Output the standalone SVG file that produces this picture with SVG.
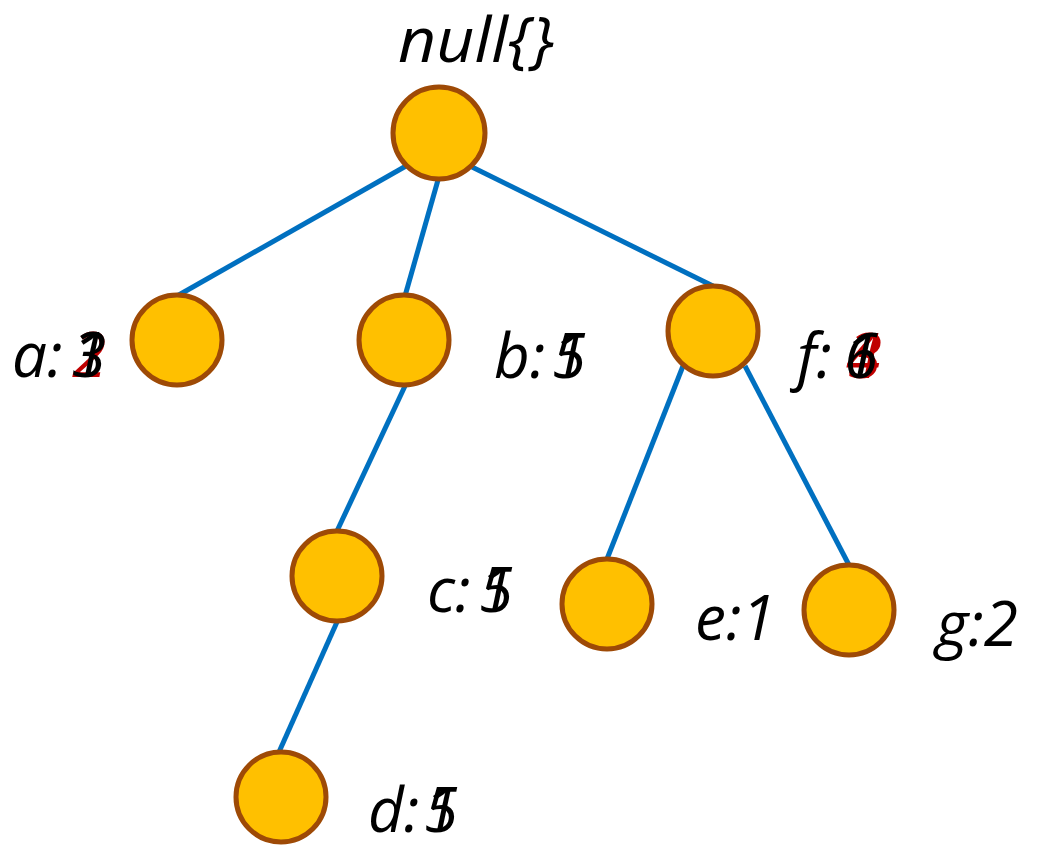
<svg xmlns="http://www.w3.org/2000/svg" width="1040" height="846" viewBox="0 0 1040 846">
<style>
.n{fill:#FFC000;stroke:#9E4A06;stroke-width:5}
.e{stroke:#0070C0;stroke-width:5;fill:none}
text{font-family:"Open Sans","DejaVu Sans",sans-serif;font-style:italic;font-size:62px;fill:#000}
.r{fill:#C00000}
</style>
<rect width="1040" height="846" fill="#fff"/>
<g id="connectors">
<line class="e" x1="406" y1="166" x2="177" y2="296"/>
<line class="e" x1="438" y1="180" x2="405" y2="296"/>
<line class="e" x1="472" y1="167" x2="713" y2="286"/>
<line class="e" x1="405" y1="386" x2="337" y2="531"/>
<line class="e" x1="337" y1="622" x2="279" y2="752"/>
<line class="e" x1="683" y1="366" x2="607" y2="559"/>
<line class="e" x1="745" y1="366" x2="849" y2="565"/>
</g>
<g id="root"><circle class="n" cx="439" cy="133" r="46"/><text x="398" y="62" textLength="156" lengthAdjust="spacingAndGlyphs">null{}</text></g>
<g id="a"><circle class="n" cx="177" cy="340" r="45"/><text x="12" y="377">a:</text><text class="r" x="72" y="377">2</text><text x="72" y="377">3</text><text x="72" y="377">1</text></g>
<g id="b"><circle class="n" cx="404" cy="340" r="45"/><text x="494" y="378">b:</text><text x="552" y="378">5</text><text x="552" y="378">1</text></g>
<g id="f"><circle class="n" cx="713" cy="331" r="45"/><text x="797" y="378">f:</text><text class="r" x="846" y="378">4</text><text class="r" x="848" y="378">3</text><text x="844" y="378">6</text><text x="844" y="378">1</text></g>
<g id="c"><circle class="n" cx="337" cy="576" r="45"/><text x="427" y="612">c:</text><text x="479" y="612">5</text><text x="479" y="612">1</text></g>
<g id="d"><circle class="n" cx="281" cy="797" r="45"/><text x="368" y="832">d:</text><text x="424" y="832">5</text><text x="424" y="832">1</text></g>
<g id="e"><circle class="n" cx="607" cy="604" r="45"/><text x="695" y="640">e:1</text></g>
<g id="g"><circle class="n" cx="849" cy="610" r="45"/><text x="936" y="646">g:2</text></g>
</svg>
